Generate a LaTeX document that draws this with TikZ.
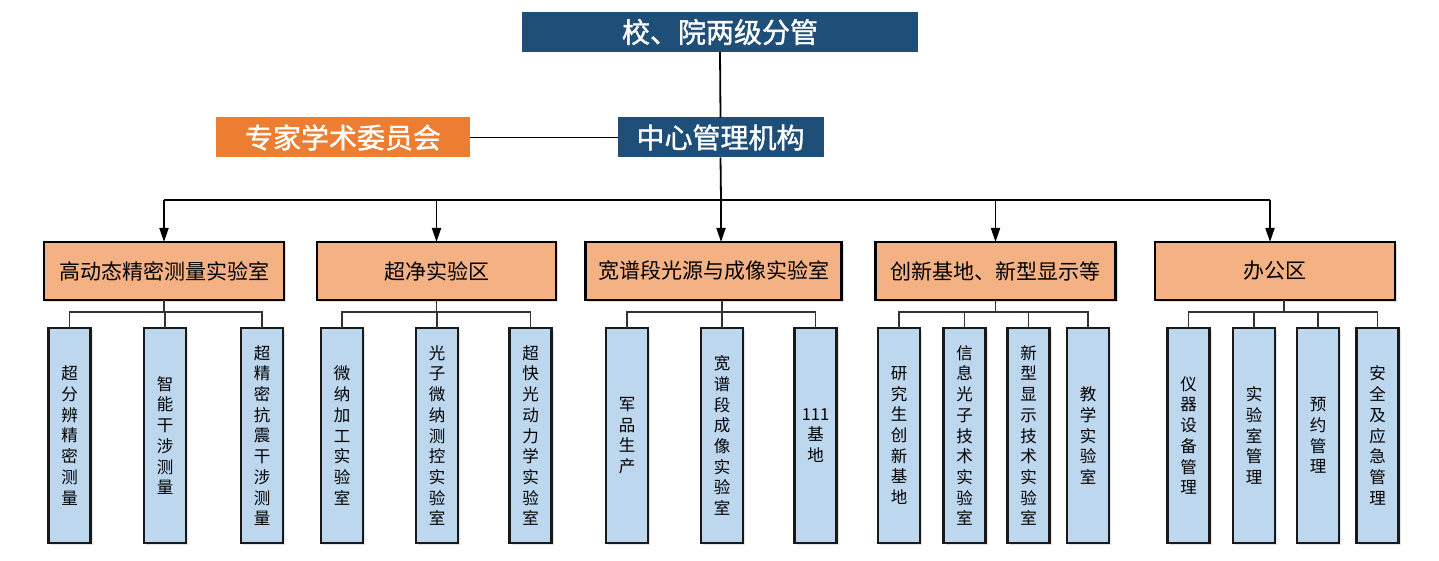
\documentclass[tikz,border=0pt]{standalone}
\usepackage{fontspec}
\setmainfont{Noto Sans CJK SC}
\newfontfamily\topfont[FakeBold=1.2]{Noto Sans CJK SC}
\usetikzlibrary{arrows.meta,shadows}
\definecolor{topblue}{HTML}{1F4E79}
\definecolor{exporange}{HTML}{ED7D31}
\definecolor{midorange}{HTML}{F4B183}
\definecolor{subblue}{HTML}{BDD7EE}
\tikzset{
  topbox/.style={fill=#1, text=white, font=\topfont\fontsize{28}{30}\selectfont, inner sep=0pt, outer sep=0pt, minimum height=40},
  midbox/.style={draw=black, line width=2.6pt, fill=midorange, font=\fontsize{21}{24}\selectfont, inner sep=0pt, outer sep=0pt, minimum height=58,
    drop shadow={opacity=0.25, shadow xshift=2pt, shadow yshift=-2pt}},
  subbox/.style={draw=black!90, line width=2.2pt, fill=subblue, font=\fontsize{16.5}{20.7}\selectfont, align=center, inner sep=0pt, outer sep=0pt,
    minimum width=42, minimum height=215, drop shadow={opacity=0.2, shadow xshift=2pt, shadow yshift=-2pt}},
  mainline/.style={line width=1.8pt, black},
  arrowline/.style={mainline, -{Triangle[length=14pt,width=9pt]}},
  subline/.style={line width=1.1pt, black!80},
}
\begin{document}
\begin{tikzpicture}[x=1pt,y=-1pt]
\useasboundingbox[fill=white] (0,0) rectangle (1439,561);
% top level
\node[topbox=topblue, minimum width=396] (T) at (720,32) {校、院两级分管};
\node[topbox=topblue, minimum width=206] (M) at (720.5,137.5) {中心管理机构};
\node[topbox=exporange, minimum width=254] (Z) at (343,137.5) {专家学术委员会};
\draw[mainline] (T.south) -- (M.north);
\draw[mainline] (Z.east) -- (M.west);
% middle boxes
\node[midbox, minimum width=240] (A) at (164,271) {高动态精密测量实验室};
\node[midbox, minimum width=239] (B) at (436.5,271) {超净实验区};
\node[midbox, minimum width=256] (C) at (713.75,271) {宽谱段光源与成像实验室};
\node[midbox, minimum width=240] (D) at (995.5,271) {创新基地、新型显示等};
\node[midbox, minimum width=240] (E) at (1275,271) {办公区};
\coordinate (bus) at (721,200);
\draw[mainline] (M.south) -- (bus);
\draw[mainline] (A.north |- bus) -- ([xshift=-5pt]E.north |- bus);
\draw[arrowline] (A.north |- bus) -- (A.north);
\draw[arrowline] (B.north |- bus) -- (B.north);
\draw[arrowline] (bus) -- (bus |- C.north);
\draw[arrowline] (D.north |- bus) -- (D.north);
\draw[arrowline] ([xshift=-5pt]E.north |- bus) -- ([xshift=-5pt]E.north);
% sub boxes
\node[subbox] (a1) at (69.5,435.5) {超\\分\\辨\\精\\密\\测\\量};
\node[subbox] (a2) at (165,435.5) {智\\能\\干\\涉\\测\\量};
\node[subbox] (a3) at (262,435.5) {超\\精\\密\\抗\\震\\干\\涉\\测\\量};
\node[subbox] (b1) at (342,435.5) {微\\纳\\加\\工\\实\\验\\室};
\node[subbox] (b2) at (437,435.5) {光\\子\\微\\纳\\测\\控\\实\\验\\室};
\node[subbox] (b3) at (530.5,435.5) {超\\快\\光\\动\\力\\学\\实\\验\\室};
\node[subbox] (c1) at (627,435.5) {军\\品\\生\\产};
\node[subbox] (c2) at (722,435.5) {宽\\谱\\段\\成\\像\\实\\验\\室};
\node[subbox] (c3) at (815.5,435.5) {111\\基\\地};
\node[subbox] (d1) at (899,435.5) {研\\究\\生\\创\\新\\基\\地};
\node[subbox] (d2) at (964.5,435.5) {信\\息\\光\\子\\技\\术\\实\\验\\室};
\node[subbox] (d3) at (1028.5,435.5) {新\\型\\显\\示\\技\\术\\实\\验\\室};
\node[subbox] (d4) at (1088,435.5) {教\\学\\实\\验\\室};
\node[subbox] (e1) at (1188.5,435.5) {仪\\器\\设\\备\\管\\理};
\node[subbox] (e2) at (1254,435.5) {实\\验\\室\\管\\理};
\node[subbox] (e3) at (1318,435.5) {预\\约\\管\\理};
\node[subbox] (e4) at (1377.5,435.5) {安\\全\\及\\应\\急\\管\\理};
% sub connectors
\draw[subline] (A.south) -- ++(0,12);
\draw[subline] (a1.north) -- ++(0,-16) -| (a3.north);
\draw[subline] (a2.north) -- ++(0,-16);
\draw[subline] (B.south) -- ++(0,12);
\draw[subline] (b1.north) -- ++(0,-16) -| (b3.north);
\draw[subline] (b2.north) -- ++(0,-16);
\draw[subline] (C.south -| c2.north) -- ++(0,12);
\draw[subline] (c1.north) -- ++(0,-16) -| (c3.north);
\draw[subline] (c2.north) -- ++(0,-16);
\draw[subline] (D.south) -- ++(0,12);
\draw[subline] (d1.north) -- ++(0,-16) -| (d4.north);
\draw[subline] (d2.north) -- ++(0,-16);
\draw[subline] (d3.north) -- ++(0,-16);
\draw[subline] ([xshift=9pt]E.south) -- ++(0,12);
\draw[subline] (e1.north) -- ++(0,-16) -| (e4.north);
\draw[subline] (e2.north) -- ++(0,-16);
\draw[subline] (e3.north) -- ++(0,-16);
\end{tikzpicture}
\end{document}
